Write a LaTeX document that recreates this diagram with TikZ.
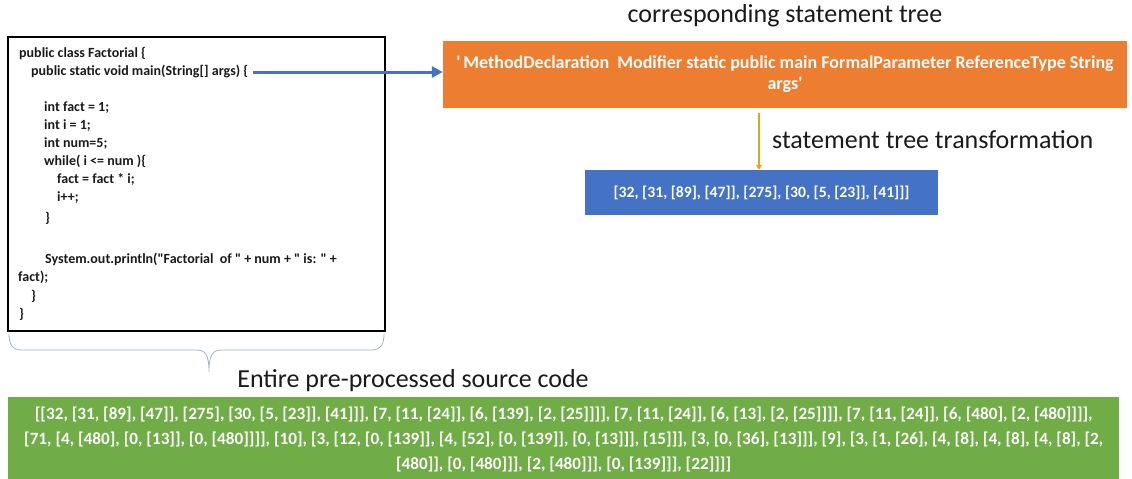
\documentclass[tikz,border=0pt]{standalone}
\usepackage{fontspec}
\setmainfont{Carlito}[BoldFont={Carlito Bold},Ligatures=TeXOff]
\usetikzlibrary{arrows.meta}
\definecolor{orangeC}{HTML}{ED7D31}
\definecolor{blueC}{HTML}{4472C4}
\definecolor{greenC}{HTML}{70AD47}
\definecolor{goldC}{HTML}{DDA816}
\definecolor{braceC}{HTML}{9FB4C8}
\definecolor{textC}{HTML}{1A1A1A}
\tikzset{
  filledbox/.style={draw=none, inner sep=0pt, text=white, align=center},
  caption/.style={inner sep=0pt, text=textC, font=\fontsize{26}{30}\selectfont},
  codeline/.style={anchor=base west, inner sep=0pt, text=textC, font=\fontsize{14}{16}\selectfont\bfseries},
}
\begin{document}
\begin{tikzpicture}[x=1pt,y=-1pt]
\useasboundingbox (0,0) rectangle (1132,479);
% code box
\node[draw=black, line width=1.6pt, minimum width=377pt, minimum height=294pt, inner sep=0pt] (code) at (196.5,184) {};
\node[codeline] (l1) at (19,57) {public class Factorial \{};
\node[codeline] (l2) at (31,75) {public static void main(String[] args) \{};
\node[codeline] (l3) at (44,111) {int fact = 1;};
\node[codeline] (l4) at (44,129) {int i = 1;};
\node[codeline] (l5) at (44,147) {int num=5;};
\node[codeline] (l6) at (44,165) {while( i <= num )\{};
\node[codeline] (l7) at (57,183) {fact = fact * i;};
\node[codeline] (l8) at (57,201) {i++;};
\node[codeline] (l9) at (45,222) {\}};
\node[codeline] (l10) at (45,263) {System.out.println("Factorial\ \ of " + num + " is: " +};
\node[codeline] (l11) at (18,281) {fact);};
\node[codeline] (l12) at (31,300) {\}};
\node[codeline] (l13) at (19,318) {\}};
% statement tree
\node[caption] (title) at (785,16) {corresponding statement tree};
\node[filledbox, fill=orangeC, minimum width=684pt, minimum height=67pt, font=\fontsize{18}{21}\selectfont\bfseries] (tree) at (785,74.5)
  {'\,MethodDeclaration\ \ Modifier\ static\ public\ main\ FormalParameter\ ReferenceType\ String\\args'};
\coordinate (argsend) at (253,72);
\draw[blueC, line width=3pt, -{Triangle[length=11pt,width=11pt]}] (argsend) -- (tree.west |- argsend);
% transformation
\node[filledbox, fill=blueC, minimum width=353pt, minimum height=45pt, font=\fontsize{15.7}{18}\selectfont\bfseries] (vec) at (761.5,192.5)
  {[32, [31, [89], [47]], [275], [30, [5, [23]], [41]]]};
\coordinate (gtop) at (759,113);
\draw[goldC, line width=2.5pt, -{Triangle[length=5pt,width=6pt]}] (gtop) -- (gtop |- vec.north);
\node[caption, anchor=west] (trans) at (772,140) {statement tree transformation};
% brace
\coordinate (bl) at (9,334);
\coordinate (br) at (384,334);
\coordinate (bt) at (209,372);
\draw[braceC, line width=0.8pt] (bl) .. controls (9,344) and (12,350) .. (22,350) -- (196,350)
  .. controls (205,350) and (209,354) .. (bt) .. controls (209,354) and (213,350) .. (222,350)
  -- (372,350) .. controls (381,350) and (384,344) .. (br);
% entire source
\node[caption] (entire) at (413,381) {Entire pre-processed source code};
\node[filledbox, fill=greenC, minimum width=1111pt, minimum height=84pt, font=\fontsize{17.2}{25}\selectfont\bfseries] (all) at (563.5,439)
  {[[32, [31, [89], [47]], [275], [30, [5, [23]], [41]]], [7, [11, [24]], [6, [139], [2, [25]]]], [7, [11, [24]], [6, [13], [2, [25]]]], [7, [11, [24]], [6, [480], [2, [480]]]],\\\relax
   [71, [4, [480], [0, [13]], [0, [480]]]], [10], [3, [12, [0, [139]], [4, [52], [0, [139]], [0, [13]]], [15]]], [3, [0, [36], [13]]], [9], [3, [1, [26], [4, [8], [4, [8], [4, [8], [2,\\\relax
   [480]], [0, [480]]], [2, [480]]], [0, [139]]], [22]]]]};
\end{tikzpicture}
\end{document}
